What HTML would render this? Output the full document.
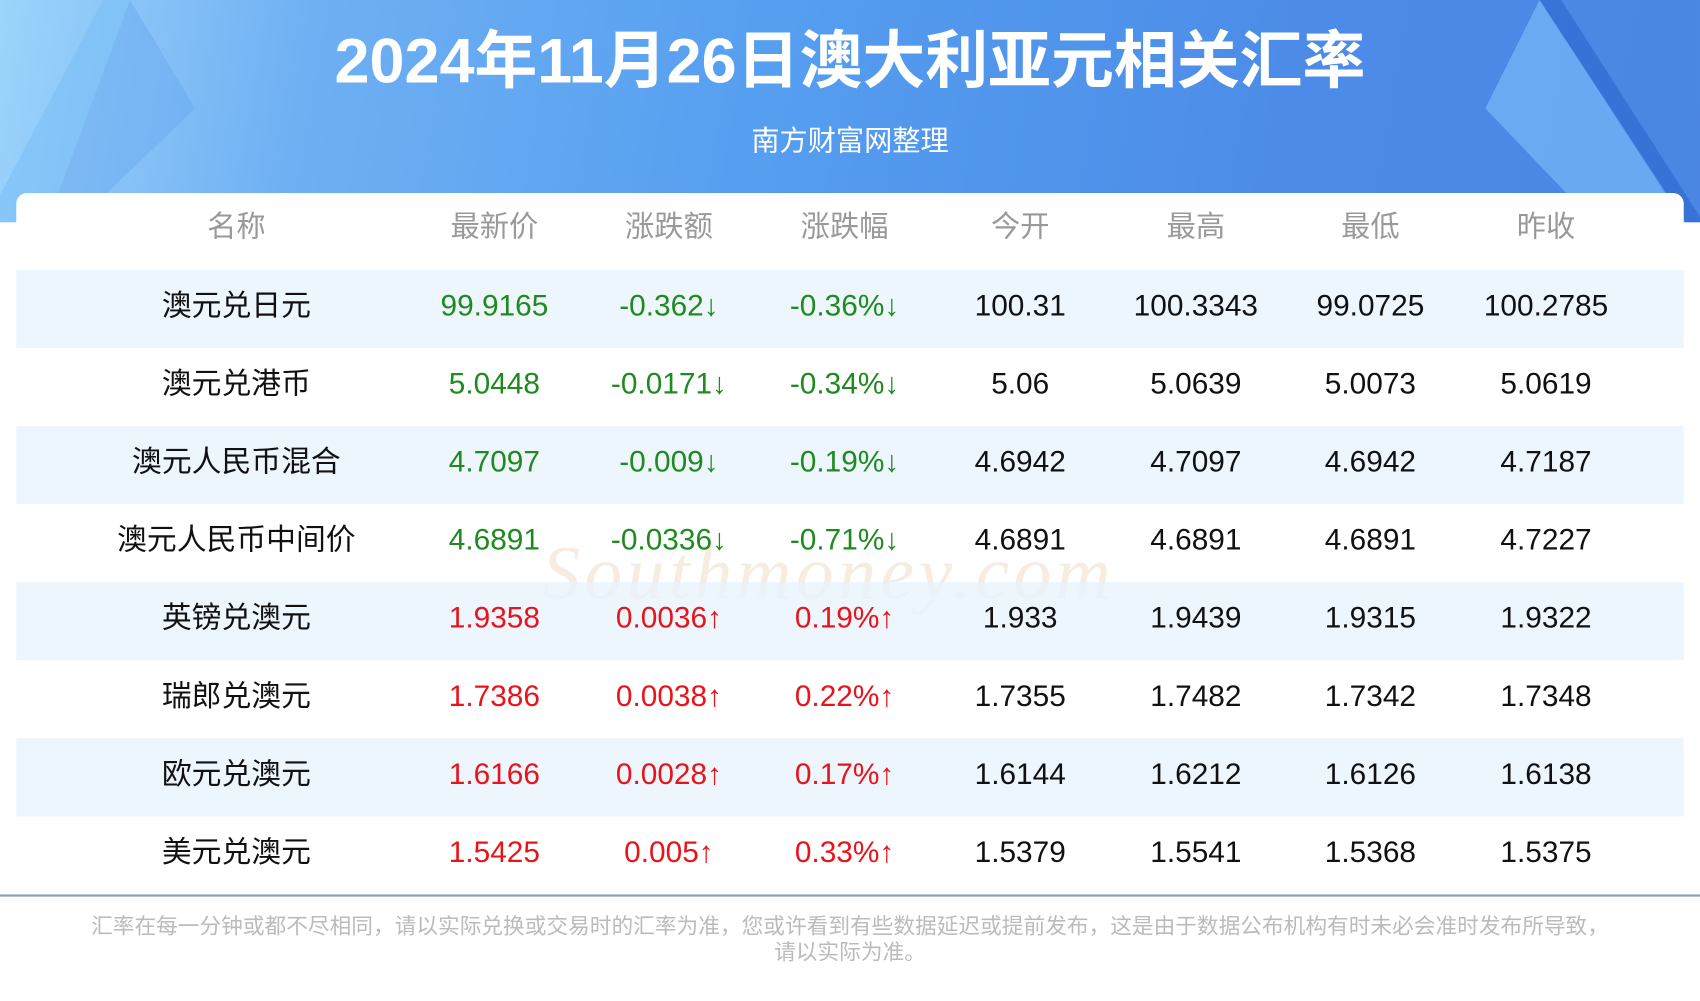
<!DOCTYPE html>
<html><head><meta charset="utf-8"><style>
html,body{margin:0;padding:0;width:1700px;height:1000px;overflow:hidden;background:#fff}
#w{position:absolute;left:0;top:0;width:1568px;height:923px;transform:scale(1.08418);transform-origin:0 0;font-family:"Liberation Sans","Noto Sans CJK SC",sans-serif}
.bn{position:absolute;left:0;top:0;width:1568px;height:205px;background:linear-gradient(100deg,#9dd4fb 0%,#6fb0f3 18%,#559ef0 45%,#4c8ce8 75%,#4a86e4 100%);overflow:hidden}
.t{position:absolute;left:0;width:1568px;text-align:center;color:#fff}
.card{position:absolute;left:15px;top:178px;width:1538px;height:650px;background:#fff;border-radius:10px 10px 0 0}
.row{position:absolute;left:15px;width:1538px;height:72px}
.c{position:absolute;width:260px;margin-left:-130px;text-align:center;font-size:27.5px;line-height:66px;color:#111;white-space:nowrap}
.h .c{color:#999;font-size:27px;line-height:72px}
.g{color:#1f8a1f!important}.r{color:#e8141b!important}
</style></head><body><div id="w">
<div class="bn">
<svg width="1568" height="215" style="position:absolute;left:0;top:0">
<polygon points="95,0 120,0 40,215 0,215 0,180" fill="#7cc0f7" opacity=".6"/>
<polygon points="120,0 180,100 60,215 40,215" fill="#6aa9f0" opacity=".5"/>
<polygon points="1420,0 1440,0 1568,200 1568,225" fill="#2f6bd0" opacity=".7"/>
<polygon points="1420,0 1370,100 1480,215 1560,215" fill="#76b8f8" opacity=".7"/>
</svg>
</div>
<div class="t" style="top:22px;font-size:58px;font-weight:bold;line-height:70px">2024年11月26日澳大利亚元相关汇率</div>
<div class="t" style="top:112px;font-size:26px;line-height:36px">南方财富网整理</div>
<div class="card"></div>
<div class="row h" style="top:173px"><div class="c" style="left:203px">名称</div><div class="c" style="left:441px">最新价</div><div class="c" style="left:602px">涨跌额</div><div class="c" style="left:764px">涨跌幅</div><div class="c" style="left:926px">今开</div><div class="c" style="left:1088px">最高</div><div class="c" style="left:1249px">最低</div><div class="c" style="left:1411px">昨收</div></div>
<div style="position:absolute;left:500px;top:490px;font-size:70px;color:#f6ede0;font-style:italic;font-family:'Liberation Serif',serif;letter-spacing:4px">Southmoney.com</div>
<div id="rows"></div>
<div style="position:absolute;left:0;top:825px;width:1568px;height:2px;background:#8aa0b8"></div>
<div class="t" style="top:843px;font-size:20px;line-height:24px;color:#bbb">汇率在每一分钟或都不尽相同，请以实际兑换或交易时的汇率为准，您或许看到有些数据延迟或提前发布，这是由于数据公布机构有时未必会准时发布所导致，<br>请以实际为准。</div>
</div>
<script>
var d=[["澳元兑日元","99.9165","-0.362↓","-0.36%↓","100.31","100.3343","99.0725","100.2785"],
["澳元兑港币","5.0448","-0.0171↓","-0.34%↓","5.06","5.0639","5.0073","5.0619"],
["澳元人民币混合","4.7097","-0.009↓","-0.19%↓","4.6942","4.7097","4.6942","4.7187"],
["澳元人民币中间价","4.6891","-0.0336↓","-0.71%↓","4.6891","4.6891","4.6891","4.7227"],
["英镑兑澳元","1.9358","0.0036↑","0.19%↑","1.933","1.9439","1.9315","1.9322"],
["瑞郎兑澳元","1.7386","0.0038↑","0.22%↑","1.7355","1.7482","1.7342","1.7348"],
["欧元兑澳元","1.6166","0.0028↑","0.17%↑","1.6144","1.6212","1.6126","1.6138"],
["美元兑澳元","1.5425","0.005↑","0.33%↑","1.5379","1.5541","1.5368","1.5375"]];
var xs=[203,441,602,764,926,1088,1249,1411],h="";
d.forEach(function(r,i){var cl=i<4?"g":"r";h+='<div class="row" style="top:'+(249+72*i)+'px;'+(i%2==0?'background:rgba(232,242,253,.8)':'')+'">';
r.forEach(function(v,j){h+='<div class="c '+(j>0&&j<4?cl:'')+'" style="left:'+xs[j]+'px">'+v+'</div>'});h+='</div>'});
document.getElementById("rows").innerHTML=h;
</script>
</body></html>
